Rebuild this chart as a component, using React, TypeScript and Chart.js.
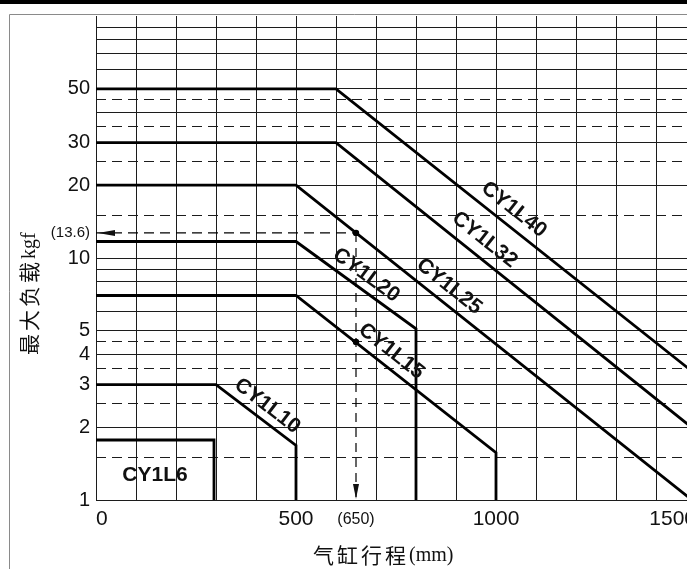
import React, { useEffect, useRef } from "react";
import { Chart, registerables } from "chart.js";

Chart.register(...registerables);

// ---------------- data ----------------
const strokeGridTicks = [0, 100, 200, 300, 400, 500, 600, 700, 800, 900, 1000, 1100, 1200, 1300, 1400, 1500];
const strokeLabelTicks = [0, 500, 650, 1000, 1500];
const loadSolidTicks = [1, 2, 3, 4, 5, 6, 7, 8, 9, 10, 20, 30, 40, 50, 60, 70, 80, 90];
const loadDashedTicks = [1.5, 2.5, 3.5, 4.5, 15, 25, 35, 45];
const loadLabelTicks = [1, 2, 3, 4, 5, 10, 20, 30, 50];

const seriesNames = ["CY1L40", "CY1L32", "CY1L25", "CY1L20", "CY1L15", "CY1L10", "CY1L6"];
const strokeCY1L40 = [0, 600, 1500];
const loadCY1L40 = [50, 50, 3.3];
const strokeCY1L32 = [0, 600, 1500];
const loadCY1L32 = [30, 30, 1.93];
const strokeCY1L25 = [0, 500, 1500];
const loadCY1L25 = [20, 20, 0.97];
const strokeCY1L20 = [0, 500, 800, 800];
const loadCY1L20 = [11.7, 11.7, 5.1, 1];
const strokeCY1L15 = [0, 500, 1000, 1000];
const loadCY1L15 = [7, 7, 1.57, 1];
const strokeCY1L10 = [0, 300, 500, 500];
const loadCY1L10 = [3, 3, 1.68, 1];
const strokeCY1L6 = [0, 295, 295];
const loadCY1L6 = [1.77, 1.77, 1];

// reading example: stroke 650 on CY1L25 (drawn where the picture places it) and on CY1L15
const readoutStroke = 650;
const readoutLoad = 12.7;
const readoutLabel = "(13.6)";
const readoutLowerLoad = 4.5;

const xTitleCjk = "气缸行程";
const xTitleLatin = "(mm)";
const yTitleCjk = "最大负载";
const yTitleLatin = "kgf";

// ---------------- layout / style ----------------
const CANVAS_W = 700;
const CANVAS_H = 569;
const INK = "#111";
const SANS = "'Liberation Sans', Arial, Helvetica, sans-serif";
const SERIF = "'Liberation Serif', 'Times New Roman', serif";
const CJK = "'Noto Sans CJK SC', 'Noto Sans CJK JP', sans-serif";

const series = [
  { name: seriesNames[0], stroke: strokeCY1L40, load: loadCY1L40 },
  { name: seriesNames[1], stroke: strokeCY1L32, load: loadCY1L32 },
  { name: seriesNames[2], stroke: strokeCY1L25, load: loadCY1L25 },
  { name: seriesNames[3], stroke: strokeCY1L20, load: loadCY1L20 },
  { name: seriesNames[4], stroke: strokeCY1L15, load: loadCY1L15 },
  { name: seriesNames[5], stroke: strokeCY1L10, load: loadCY1L10 },
  { name: seriesNames[6], stroke: strokeCY1L6, load: loadCY1L6 },
];

// where each rotated name sits along its own line (stroke of the foot point, px offset)
const labelPlacement: Record<string, { at: number; offset: number }> = {
  CY1L40: { at: 1020, offset: 16 },
  CY1L32: { at: 945, offset: 17 },
  CY1L25: { at: 858, offset: 16 },
  CY1L20: { at: 655, offset: 14 },
  CY1L15: { at: 715, offset: 15 },
  CY1L10: { at: 407, offset: 14 },
};
const boxLabelLoad = 1.27;

function pointOnSeries(chart: any, s: any, at: number) {
  const xs = chart.scales.x;
  const ys = chart.scales.y;
  for (let i = 0; i < s.stroke.length - 1; i++) {
    const a = s.stroke[i];
    const b = s.stroke[i + 1];
    if (a !== b && at >= a && at <= b) {
      const x1 = xs.getPixelForValue(a);
      const y1 = ys.getPixelForValue(s.load[i]);
      const x2 = xs.getPixelForValue(b);
      const y2 = ys.getPixelForValue(s.load[i + 1]);
      const px = xs.getPixelForValue(at);
      const t = (px - x1) / (x2 - x1);
      return { x: px, y: y1 + t * (y2 - y1), angle: Math.atan2(y2 - y1, x2 - x1) };
    }
  }
  return null;
}

const decorPlugin = {
  id: "decor",
  beforeDraw(chart: any) {
    const { ctx, width, height } = chart;
    ctx.save();
    ctx.fillStyle = "#fff";
    ctx.fillRect(0, 0, width, height);
    ctx.fillStyle = "#000";
    ctx.fillRect(0, 0, width, 4);
    ctx.strokeStyle = "#8a8a8a";
    ctx.lineWidth = 1;
    ctx.beginPath();
    ctx.moveTo(9.5, height);
    ctx.lineTo(9.5, 14.5);
    ctx.lineTo(width, 14.5);
    ctx.stroke();
    ctx.restore();
  },
  afterDatasetsDraw(chart: any) {
    const { ctx } = chart;
    const xs = chart.scales.x;
    const ys = chart.scales.y;
    ctx.save();
    ctx.fillStyle = INK;
    ctx.font = `bold 21px ${SANS}`;
    ctx.textAlign = "center";
    ctx.textBaseline = "middle";
    series.forEach((s) => {
      const place = labelPlacement[s.name];
      if (!place) return;
      const p = pointOnSeries(chart, s, place.at);
      if (!p) return;
      const cx = p.x + place.offset * Math.sin(p.angle);
      const cy = p.y - place.offset * Math.cos(p.angle);
      ctx.save();
      ctx.translate(cx, cy);
      ctx.rotate(p.angle);
      ctx.fillText(s.name, 0, 0);
      ctx.restore();
    });
    // CY1L6 sits inside its own box
    const s6 = series[6];
    const bx = xs.getPixelForValue((s6.stroke[0] + s6.stroke[1]) / 2);
    const by = ys.getPixelForValue(boxLabelLoad);
    ctx.fillText(s6.name, bx, by);

    // arrow heads of the reading example
    const lx = xs.getPixelForValue(0) + 2;
    const ly = ys.getPixelForValue(readoutLoad);
    ctx.beginPath();
    ctx.moveTo(lx, ly);
    ctx.lineTo(lx + 17, ly - 3);
    ctx.lineTo(lx + 17, ly + 3);
    ctx.closePath();
    ctx.fill();
    const bxp = xs.getPixelForValue(readoutStroke);
    const byp = ys.getPixelForValue(1) - 1;
    ctx.beginPath();
    ctx.moveTo(bxp, byp);
    ctx.lineTo(bxp - 3, byp - 15);
    ctx.lineTo(bxp + 3, byp - 15);
    ctx.closePath();
    ctx.fill();
    ctx.restore();
  },
  afterDraw(chart: any) {
    const { ctx } = chart;
    ctx.save();
    ctx.fillStyle = INK;
    ctx.textBaseline = "middle";
    ctx.textAlign = "left";
    // x title
    let x = 313;
    const yT = 555;
    ctx.font = `21px ${CJK}`;
    for (const ch of xTitleCjk) {
      ctx.fillText(ch, x, yT);
      x += 24;
    }
    ctx.font = `20px ${SERIF}`;
    ctx.fillText(xTitleLatin, x, yT + 1);
    // y title
    ctx.translate(29, 355);
    ctx.rotate(-Math.PI / 2);
    let t = 0;
    ctx.font = `21px ${CJK}`;
    for (const ch of yTitleCjk) {
      ctx.fillText(ch, t, 0);
      t += 24;
    }
    ctx.font = `20px ${SERIF}`;
    ctx.fillText(yTitleLatin, t, 1);
    ctx.restore();
  },
};

export default function App() {
  const ref = useRef<HTMLCanvasElement | null>(null);

  useEffect(() => {
    if (!ref.current) return;
    const lineStyle = {
      showLine: true,
      borderColor: "#000",
      borderWidth: 2.8,
      pointRadius: 0,
      pointHoverRadius: 0,
      fill: false,
      borderJoinStyle: "miter",
      borderCapStyle: "butt",
    };
    const datasets: any[] = series.map((s) => ({
      label: s.name,
      data: s.stroke.map((x, i) => ({ x, y: s.load[i] })),
      ...lineStyle,
    }));
    datasets.push({
      label: "readout-h",
      data: [
        { x: 0, y: readoutLoad },
        { x: readoutStroke, y: readoutLoad },
      ],
      showLine: true,
      borderColor: "#000",
      borderWidth: 1.2,
      borderDash: [10, 6],
      pointRadius: 0,
    });
    datasets.push({
      label: "readout-v",
      data: [
        { x: readoutStroke, y: readoutLoad },
        { x: readoutStroke, y: 1 },
      ],
      showLine: true,
      borderColor: "#000",
      borderWidth: 1.2,
      borderDash: [9, 6],
      pointRadius: 0,
    });
    datasets.push({
      label: "readout-points",
      data: [
        { x: readoutStroke, y: readoutLoad },
        { x: readoutStroke, y: readoutLowerLoad },
      ],
      showLine: false,
      pointRadius: 3.2,
      pointBackgroundColor: "#000",
      pointBorderWidth: 0,
    });

    const chart = new Chart(ref.current, {
      type: "scatter",
      data: { datasets },
      plugins: [decorPlugin],
      options: {
        animation: false,
        responsive: false,
        devicePixelRatio: 1,
        events: [],
        layout: { padding: { top: 16, right: 3, left: 0, bottom: 0 } },
        plugins: { legend: { display: false }, tooltip: { enabled: false } },
        scales: {
          x: {
            type: "linear",
            min: 0,
            max: 1500,
            afterBuildTicks: (axis: any) => {
              axis.ticks = [...strokeGridTicks, readoutStroke]
                .sort((a, b) => a - b)
                .map((v) => ({ value: v }));
            },
            afterFit: (axis: any) => {
              axis.height = 69;
              axis.paddingLeft = 0;
              axis.paddingRight = 0;
            },
            grid: {
              color: (c: any) => (c.tick && c.tick.value === readoutStroke ? "rgba(0,0,0,0)" : "#1c1c1c"),
              lineWidth: 1,
              drawTicks: false,
            },
            border: { display: false },
            ticks: {
              autoSkip: false,
              maxRotation: 0,
              minRotation: 0,
              align: "inner",
              padding: 7,
              color: INK,
              font: (c: any) =>
                c.tick && c.tick.value === readoutStroke
                  ? { family: SANS, size: 16, lineHeight: 1.6 }
                  : { family: SANS, size: 21, lineHeight: 1.2 },
              callback: (v: any) =>
                strokeLabelTicks.includes(v) ? (v === readoutStroke ? `(${v})` : String(v)) : "",
            },
          },
          y: {
            type: "logarithmic",
            min: 1,
            max: 100,
            afterBuildTicks: (axis: any) => {
              axis.ticks = [...loadSolidTicks, ...loadDashedTicks, readoutLoad]
                .sort((a, b) => a - b)
                .map((v) => ({ value: v }));
            },
            afterFit: (axis: any) => {
              axis.width = 96;
              axis.paddingTop = 0;
              axis.paddingBottom = 0;
            },
            grid: {
              color: (c: any) => (c.tick && c.tick.value === readoutLoad ? "rgba(0,0,0,0)" : "#1c1c1c"),
              lineWidth: 1,
              drawTicks: false,
            },
            border: {
              display: false,
              dash: (c: any) => (c.tick && loadDashedTicks.includes(c.tick.value) ? [10, 6] : []),
            },
            ticks: {
              autoSkip: false,
              padding: 6,
              color: INK,
              font: (c: any) =>
                c.tick && c.tick.value === readoutLoad ? { family: SANS, size: 15 } : { family: SANS, size: 20 },
              callback: (v: any) =>
                v === readoutLoad ? readoutLabel : loadLabelTicks.includes(v) ? String(v) : "",
            },
          },
        },
      } as any,
    });
    return () => chart.destroy();
  }, []);

  return (
    <div
      style={{
        position: "fixed",
        left: 0,
        top: 0,
        width: 687,
        height: 569,
        overflow: "hidden",
        background: "#fff",
      }}
    >
      <canvas
        ref={ref}
        width={CANVAS_W}
        height={CANVAS_H}
        style={{ display: "block", width: CANVAS_W, height: CANVAS_H }}
      />
    </div>
  );
}
